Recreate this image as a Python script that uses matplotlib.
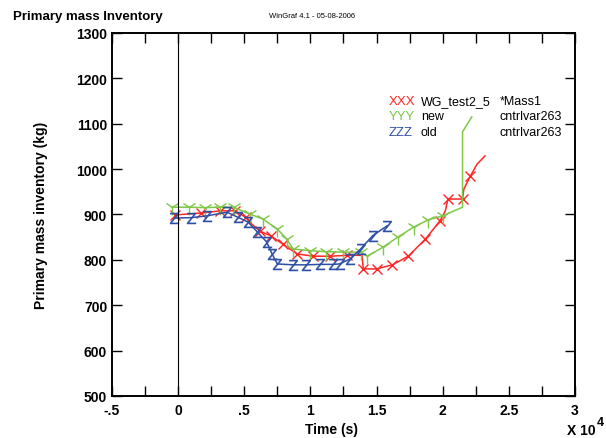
import numpy as np
import matplotlib.pyplot as plt
from matplotlib.ticker import MultipleLocator, FuncFormatter

plt.rcParams["font.family"] = ["Liberation Sans", "DejaVu Sans"]

# time in units of 1e4 s, mass in kg
red_t = [-0.02, 0.17, 0.32, 0.43, 0.51, 0.54, 0.62, 0.70, 0.79, 0.90, 1.02, 1.15, 1.28, 1.39,
	1.40, 1.50, 1.62, 1.74, 1.87, 1.98, 2.02, 2.04, 2.15, 2.16, 2.21, 2.26, 2.32]
red_m = [899, 903, 908, 908, 894, 883, 863, 853, 835, 813, 808, 808, 810, 810,
	780, 780, 789, 808, 846, 886, 908, 934, 934, 956, 985, 1011, 1029]

green_t = [-0.05, 0.08, 0.20, 0.32, 0.42, 0.54, 0.64, 0.75, 0.82, 0.87, 1.00, 1.12, 1.25, 1.38,
	1.43, 1.55, 1.66, 1.78, 1.89, 2.00, 2.15, 2.15, 2.22]
green_m = [916, 916, 915, 916, 916, 901, 890, 868, 846, 824, 820, 818, 817, 817,
	808, 828, 850, 872, 888, 897, 916, 1082, 1115]

blue_t = [-0.03, 0.10, 0.22, 0.37, 0.45, 0.53, 0.60, 0.67, 0.71, 0.75, 0.87, 0.97, 1.07, 1.17, 1.22,
	1.30, 1.38, 1.47, 1.58]
blue_m = [892, 893, 897, 905, 894, 883, 861, 839, 813, 791, 789, 789, 790, 790, 791,
	802, 824, 853, 875]

legend_rows = [("XXX", "WG_test2_5", "*Mass1"), ("YYY", "new", "cntrlvar263"), ("ZZZ", "old", "cntrlvar263")]
colors = ["#ff2626", "#7dc846", "#2e4fa6"]

def fmt(v, pos):
	s = f"{v:g}"
	if s.startswith("0."):
		s = s[1:]
	elif s.startswith("-0."):
		s = "-" + s[2:]
	return s

def main():
	fig = plt.figure(figsize=(6.06, 4.39), dpi=100)
	ax = fig.add_axes([0.1848, 0.0957, 0.764, 0.827])

	red_mk = [i for i in range(len(red_t)) if i not in (5, 13, 20, 23, 25, 26)]
	green_mk = [i for i in range(len(green_t)) if i not in (20, 21, 22)]
	ax.plot(red_t, red_m, color=colors[0], lw=1.1, marker="x", ms=7, mew=1, markevery=red_mk)
	ax.plot(green_t, green_m, color=colors[1], lw=1.1, marker="1", ms=11, mew=1, markevery=green_mk)
	ax.plot(blue_t, blue_m, color=colors[2], lw=1.1, marker=r"$\mathsf{Z}$", ms=8, mew=0.2)
	ax.axvline(0, color="k", lw=0.8)

	ax.set_xlim(-0.5, 3)
	ax.set_ylim(500, 1300)
	ax.xaxis.set_major_locator(MultipleLocator(0.5))
	ax.xaxis.set_minor_locator(MultipleLocator(0.25))
	ax.xaxis.set_major_formatter(FuncFormatter(fmt))
	ax.yaxis.set_major_locator(MultipleLocator(100))
	ax.tick_params(which="both", direction="in", top=True, right=True, length=7, width=1)
	ax.tick_params(axis="x", pad=5)
	for lbl in ax.get_xticklabels() + ax.get_yticklabels():
		lbl.set_fontweight("bold")
		lbl.set_fontsize(10)
	for sp in ax.spines.values():
		sp.set_linewidth(1.4)

	ax.set_ylabel("Primary mass inventory (kg)", fontsize=10, fontweight="bold", labelpad=20)
	fig.text(0.547, 0.012, "Time (s)", fontsize=10, fontweight="bold", ha="center")
	fig.text(0.935, 0.008, "X 10", fontsize=10, fontweight="bold", ha="left")
	fig.text(0.984, 0.03, "4", fontsize=9, fontweight="bold", ha="left")
	fig.text(0.022, 0.955, "Primary mass Inventory", fontsize=9.5, fontweight="bold")
	fig.text(0.515, 0.958, "WinGraf 4.1 - 05-08-2006", fontsize=5.5, ha="center")

	for i, (sym, name, var) in enumerate(legend_rows):
		y = 0.812 - i * 0.042
		ax.text(0.597, y, sym, color=colors[i], fontsize=9.5, transform=ax.transAxes, va="center")
		ax.text(0.667, y, name, color="k", fontsize=9, transform=ax.transAxes, va="center")
		ax.text(0.838, y, var, color="k", fontsize=9, transform=ax.transAxes, va="center")

	plt.savefig("out.png", dpi=100)
	plt.close(fig)

if __name__ == "__main__":
	main()
